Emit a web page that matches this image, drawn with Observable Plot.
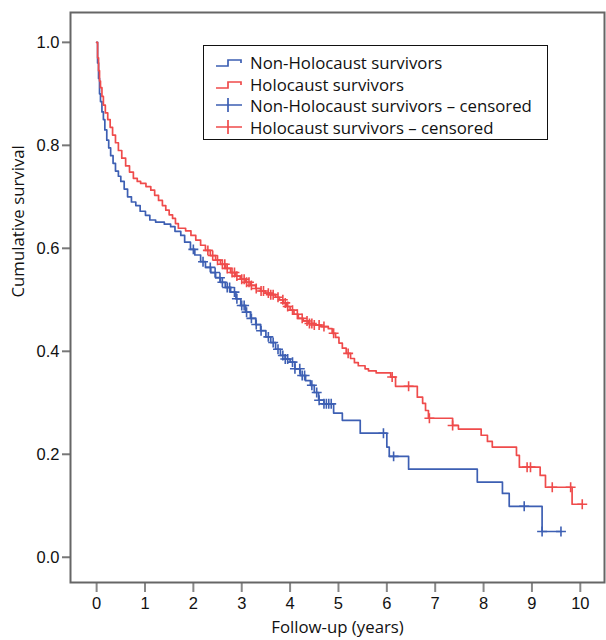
<!DOCTYPE html>
<html><head><meta charset="utf-8">
<script src="https://cdn.jsdelivr.net/npm/d3@7"></script>
<script src="https://cdn.jsdelivr.net/npm/@observablehq/plot@0.6"></script>
<style>
body{margin:0;background:#fff;}
#wrap{position:relative;width:606px;height:640px;overflow:hidden;}
#legend{position:absolute;left:203px;top:45px;width:343px;height:93px;border:1px solid #111;background:#fff;font-family:"Open Sans",sans-serif;font-size:16.8px;color:#111;}
.row{position:absolute;left:10px;height:22px;display:flex;align-items:center;white-space:nowrap;}
.row svg{margin-right:6px;}
</style></head><body>
<div id="wrap"><div id="chart"></div><div id="legend"></div></div>
<script>
const groups = ["Non-Holocaust survivors", "Holocaust survivors"];
const legendLabels = ["Non-Holocaust survivors", "Holocaust survivors", "Non-Holocaust survivors \u2013 censored", "Holocaust survivors \u2013 censored"];
const colors = ["#3d5fb3", "#ef4b4b"];
const xTicks = [0,1,2,3,4,5,6,7,8,9,10];
const yTicks = [0,0.2,0.4,0.6,0.8,1.0];
const xLabel = "Follow-up (years)";
const yLabel = "Cumulative survival";

// Non-Holocaust survivors: event times and survival after each step
const nonTime = [0,0.02,0.04,0.06,0.08,0.11,0.14,0.17,0.21,0.25,0.29,0.34,0.39,0.45,0.50,0.57,0.64,0.72,0.81,0.90,1.01,1.10,1.22,1.40,1.53,1.62,1.74,1.82,1.94,2.03,2.15,2.25,2.36,2.46,2.56,2.66,2.77,2.88,2.98,3.08,3.18,3.29,3.39,3.50,3.60,3.70,3.80,3.90,4.00,4.10,4.21,4.32,4.42,4.50,4.59,4.70,4.90,5.08,5.45,6.00,6.05,6.45,7.87,8.39,8.53,9.21];
const nonSurv = [1.0,0.96,0.93,0.90,0.885,0.865,0.85,0.83,0.81,0.795,0.78,0.765,0.75,0.74,0.73,0.715,0.70,0.69,0.683,0.672,0.664,0.655,0.651,0.647,0.642,0.633,0.625,0.612,0.598,0.587,0.574,0.563,0.553,0.543,0.534,0.524,0.515,0.502,0.489,0.476,0.464,0.452,0.44,0.428,0.417,0.404,0.392,0.385,0.379,0.366,0.353,0.343,0.334,0.32,0.305,0.298,0.28,0.266,0.241,0.214,0.196,0.171,0.146,0.124,0.099,0.05];
const nonCensored = [2.0,2.2,2.35,2.45,2.55,2.6,2.7,2.75,2.85,2.9,3.0,3.05,3.1,3.2,3.3,3.4,3.55,3.65,3.75,3.85,3.9,3.95,4.05,4.1,4.2,4.25,4.3,4.45,4.55,4.6,4.7,4.75,4.8,4.85,5.93,6.14,8.84,9.21,9.6];

// Holocaust survivors
const holTime = [0,0.02,0.04,0.06,0.08,0.11,0.14,0.18,0.23,0.28,0.33,0.39,0.45,0.52,0.60,0.68,0.76,0.84,0.91,1.02,1.12,1.20,1.28,1.36,1.43,1.50,1.57,1.63,1.69,1.84,1.95,2.05,2.15,2.25,2.35,2.46,2.56,2.67,2.77,2.87,2.97,3.08,3.18,3.29,3.39,3.49,3.60,3.70,3.78,3.86,3.93,4.00,4.08,4.17,4.27,4.38,4.50,4.65,4.79,4.87,4.94,5.01,5.08,5.16,5.25,5.33,5.41,5.55,5.62,5.78,6.08,6.18,6.63,6.74,6.80,6.86,7.36,7.48,7.95,8.08,8.18,8.68,8.74,9.17,9.28,9.83];
const holSurv = [1.0,0.97,0.945,0.925,0.912,0.895,0.878,0.863,0.85,0.835,0.82,0.805,0.79,0.775,0.76,0.748,0.736,0.73,0.726,0.72,0.713,0.703,0.693,0.683,0.674,0.665,0.658,0.648,0.639,0.634,0.625,0.616,0.606,0.596,0.586,0.577,0.569,0.561,0.553,0.546,0.54,0.534,0.528,0.522,0.517,0.513,0.51,0.505,0.50,0.494,0.487,0.48,0.472,0.464,0.459,0.454,0.451,0.448,0.444,0.435,0.427,0.416,0.406,0.396,0.386,0.378,0.372,0.366,0.362,0.358,0.35,0.332,0.311,0.299,0.285,0.27,0.256,0.249,0.237,0.225,0.214,0.198,0.175,0.159,0.136,0.103];
const holCensored = [2.3,2.4,2.5,2.6,2.65,2.7,2.8,2.85,2.9,3.0,3.05,3.1,3.15,3.2,3.3,3.4,3.45,3.55,3.6,3.65,3.75,3.85,3.9,3.95,4.05,4.15,4.25,4.35,4.4,4.45,4.5,4.6,4.7,4.9,5.2,6.11,6.45,6.88,7.36,8.9,8.97,9.42,9.8,10.04];

function survAt(times, survs, t) {
  let s = survs[0];
  for (let i = 0; i < times.length; i++) if (times[i] <= t) s = survs[i];
  return s;
}
const series = [
  {g: groups[0], times: nonTime, survs: nonSurv, cens: nonCensored},
  {g: groups[1], times: holTime, survs: holSurv, cens: holCensored}
];
const lineRows = [];
const censRows = [];
for (const s of series) {
  s.times.forEach((t, i) => lineRows.push({g: s.g, t, s: s.survs[i]}));
  const end = d3.max(s.cens);
  lineRows.push({g: s.g, t: end, s: survAt(s.times, s.survs, end)});
  s.cens.forEach(t => censRows.push({g: s.g, t, s: survAt(s.times, s.survs, t)}));
}

const chart = Plot.plot({
  width: 606,
  height: 640,
  marginLeft: 70,
  marginRight: 2,
  marginTop: 12,
  marginBottom: 58,
  style: {fontFamily: "'Liberation Sans', Arial, sans-serif", fontSize: "16.5px", color: "#111", background: "#fff"},
  x: {domain: [-0.54, 10.5]},
  y: {domain: [-0.049, 1.058]},
  color: {domain: groups, range: colors},
  marks: [
    Plot.axisY({ticks: yTicks, tickFormat: d => d.toFixed(1), tickSize: 8, tickPadding: 3, stroke: "#777", strokeWidth: 2, fontSize: 16.5, label: null}),
    Plot.axisX({ticks: xTicks, tickFormat: d => String(d), tickSize: 10, tickPadding: 5, stroke: "#888", strokeWidth: 2, fontSize: 16.5, label: null}),
    Plot.line(lineRows, {x: "t", y: "s", z: "g", stroke: "g", curve: "step-after", strokeWidth: 1.7}),
    Plot.dot(censRows, {x: "t", y: "s", stroke: "g", symbol: "plus", r: 3.3, strokeWidth: 1.6}),
    Plot.frame({stroke: "#666", strokeWidth: 2}),
    Plot.text([yLabel], {frameAnchor: "left", dx: -52, rotate: -90, fontSize: 16.8, fontFamily: "'Open Sans', sans-serif", fill: "#111"}),
    Plot.text([xLabel], {frameAnchor: "bottom", dy: 50, fontSize: 16.8, fontFamily: "'Open Sans', sans-serif", fill: "#111"})
  ]
});
document.getElementById("chart").appendChild(chart);

// legend
const legend = document.getElementById("legend");
const rowTops = [5, 27, 48, 70];
legendLabels.forEach((lab, i) => {
  const col = colors[i % 2];
  const row = document.createElement("div");
  row.className = "row";
  row.style.top = rowTops[i] + "px";
  const icon = i < 2
    ? `<svg width="30" height="20"><path d="M2,14H14V8H27V11" fill="none" stroke="${col}" stroke-width="1.7"/></svg>`
    : `<svg width="30" height="20"><path d="M2,10H28M14,3V17" fill="none" stroke="${col}" stroke-width="1.7"/></svg>`;
  row.innerHTML = icon + `<span>${lab}</span>`;
  legend.appendChild(row);
});
</script>
</body></html>
